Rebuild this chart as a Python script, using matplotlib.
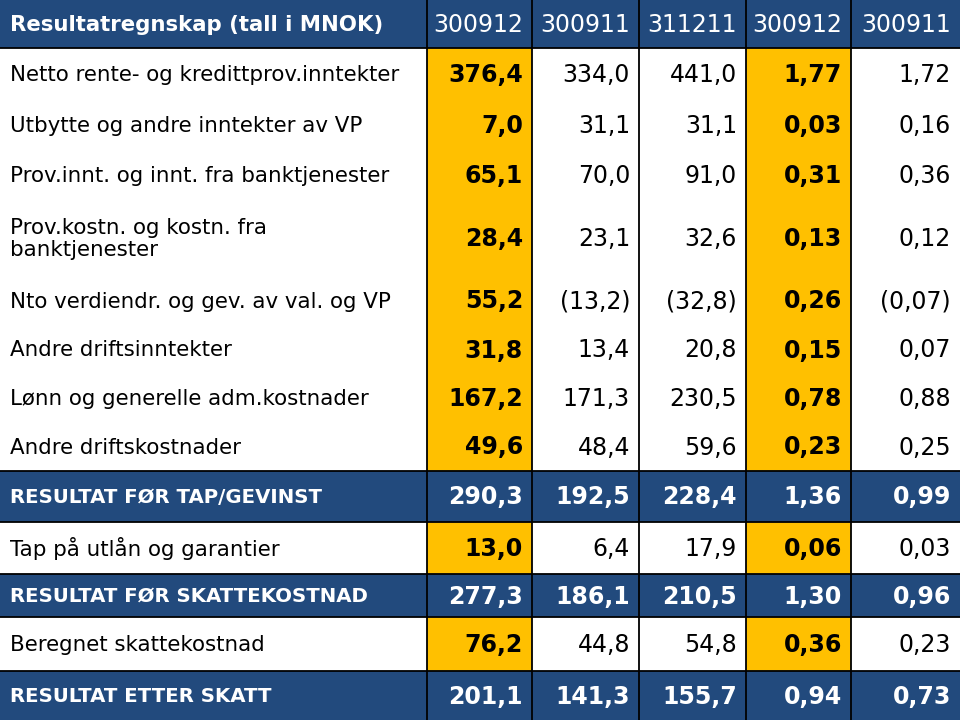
import matplotlib
matplotlib.use('Agg')
import matplotlib.pyplot as plt
import matplotlib.patches as mpatches

plt.rcParams['font.family'] = ['DejaVu Sans']

BLUE = '#224a7d'
YELLOW = '#ffc000'

title = 'Resultatregnskap (tall i MNOK)'
periods = ['300912', '300911', '311211', '300912', '300911']

labels = [
    'Netto rente- og kredittprov.inntekter',
    'Utbytte og andre inntekter av VP',
    'Prov.innt. og innt. fra banktjenester',
    'Prov.kostn. og kostn. fra\nbanktjenester',
    'Nto verdiendr. og gev. av val. og VP',
    'Andre driftsinntekter',
    'Lønn og generelle adm.kostnader',
    'Andre driftskostnader',
    'RESULTAT FØR TAP/GEVINST',
    'Tap på utlån og garantier',
    'RESULTAT FØR SKATTEKOSTNAD',
    'Beregnet skattekostnad',
    'RESULTAT ETTER SKATT',
]
mnok_2012 = [376.4, 7.0, 65.1, 28.4, 55.2, 31.8, 167.2, 49.6, 290.3, 13.0, 277.3, 76.2, 201.1]
mnok_2011 = [334.0, 31.1, 70.0, 23.1, -13.2, 13.4, 171.3, 48.4, 192.5, 6.4, 186.1, 44.8, 141.3]
mnok_year = [441.0, 31.1, 91.0, 32.6, -32.8, 20.8, 230.5, 59.6, 228.4, 17.9, 210.5, 54.8, 155.7]
pct_2012 = [1.77, 0.03, 0.31, 0.13, 0.26, 0.15, 0.78, 0.23, 1.36, 0.06, 1.30, 0.36, 0.94]
pct_2011 = [1.72, 0.16, 0.36, 0.12, -0.07, 0.07, 0.88, 0.25, 0.99, 0.03, 0.96, 0.23, 0.73]
total_rows = [8, 10, 12]

# layout in pixels
col_edges = [0, 427, 532, 639, 746, 851, 960]
row_edges = [0, 48, 100, 150, 200, 276, 325, 374, 422, 471, 522, 574, 617, 671, 720]
ruled = [48, 471, 522, 574, 617, 671]
highlight_cols = [0, 3]


def fmt(v, dec):
    s = f'{abs(v):.{dec}f}'.replace('.', ',')
    return f'({s})' if v < 0 else s


fig = plt.figure(figsize=(9.6, 7.2), dpi=100)
ax = fig.add_axes([0, 0, 1, 1])
ax.set_xlim(0, 960)
ax.set_ylim(720, 0)
ax.axis('off')

# header
ax.add_patch(mpatches.Rectangle((0, 0), 960, 48, color=BLUE, lw=0))
ax.text(10, 25, title, color='white', fontsize=15.3, va='center', ha='left', fontweight='bold')
for j, p in enumerate(periods):
    ax.text(col_edges[j + 2] - 9, 25, p, color='white', fontsize=17, va='center', ha='right')

columns = [(mnok_2012, 1), (mnok_2011, 1), (mnok_year, 1), (pct_2012, 2), (pct_2011, 2)]

for i, lab in enumerate(labels):
    y0, y1 = row_edges[i + 1], row_edges[i + 2]
    yc = (y0 + y1) / 2 + 1
    total = i in total_rows
    if total:
        ax.add_patch(mpatches.Rectangle((0, y0), 960, y1 - y0, color=BLUE, lw=0))
    else:
        for c in highlight_cols:
            x0 = col_edges[c + 1]
            ax.add_patch(mpatches.Rectangle((x0, y0), col_edges[c + 2] - x0, y1 - y0,
                                            color=YELLOW, lw=0))
    tcol = 'white' if total else 'black'
    ax.text(10, yc, lab, color=tcol, fontsize=14.2 if total else 15.4,
            va='center', ha='left', fontweight='bold' if total else 'normal',
            linespacing=1.1)
    for j, (vals, dec) in enumerate(columns):
        bold = total or j in highlight_cols
        ax.text(col_edges[j + 2] - 9, yc, fmt(vals[i], dec), color=tcol, fontsize=17,
                va='center', ha='right', fontweight='bold' if bold else 'normal')

# grid lines
for x in col_edges[1:-1]:
    ax.plot([x, x], [0, 720], color='black', lw=1.3)
for y in ruled:
    ax.plot([0, 960], [y, y], color='black', lw=1.3)

fig.savefig('out.png', dpi=100)
